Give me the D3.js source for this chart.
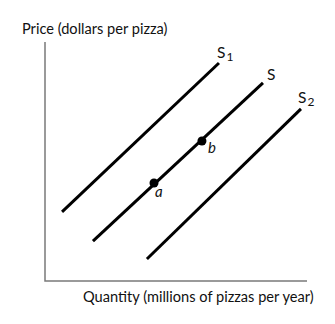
<!DOCTYPE html>
<html>
<head>
<meta charset="utf-8">
<script src="https://cdnjs.cloudflare.com/ajax/libs/d3/7.8.5/d3.min.js"></script>
<style>
  body { margin: 0; background: #fff; }
  text { font-family: Lato, "Open Sans", sans-serif; fill: #111; }
</style>
</head>
<body>
<div id="chart"></div>
<script>
// supply curves in (quantity, price) units, axes run 0..10
var curveNames = ["S1", "S", "S2"];
var curveStart = [[0.65, 2.89], [1.83, 1.67], [3.89, 0.92]];
var curveEnd   = [[6.64, 9.12], [8.32, 8.29], [9.77, 7.20]];
var pointNames = ["a", "b"];
var pointValues = [[4.16, 4.10], [5.99, 5.86]];

var width = 335, height = 324;
var svg = d3.select("#chart").append("svg")
    .attr("width", width)
    .attr("height", height);

var x = d3.scaleLinear().domain([0, 10]).range([45, 307]);
var y = d3.scaleLinear().domain([0, 10]).range([281, 42]);

// axes
svg.append("path")
    .attr("d", "M" + x(0) + "," + y(10) + "V" + y(0) + "H" + x(10))
    .attr("fill", "none")
    .attr("stroke", "#7a7a7a")
    .attr("stroke-width", 1.5);

svg.append("text").attr("x", 22).attr("y", 34)
    .attr("font-size", 14.6).text("Price (dollars per pizza)");
svg.append("text").attr("x", 83).attr("y", 302)
    .attr("font-size", 14.6).text("Quantity (millions of pizzas per year)");

var line = d3.line().x(function(d){ return x(d[0]); }).y(function(d){ return y(d[1]); });

for (var i = 0; i < curveNames.length; i++) {
    svg.append("path")
        .attr("d", line([curveStart[i], curveEnd[i]]))
        .attr("stroke", "#000")
        .attr("stroke-width", 3)
        .attr("fill", "none");
}

// curve labels
var labelOffsets = [[-2, -5], [4, -3], [-3, -6]];
for (var i = 0; i < curveNames.length; i++) {
    var t = svg.append("text")
        .attr("x", x(curveEnd[i][0]) + labelOffsets[i][0])
        .attr("y", y(curveEnd[i][1]) + labelOffsets[i][1])
        .attr("font-size", 15.5);
    t.append("tspan").text("S");
    var sub = curveNames[i].slice(1);
    if (sub) t.append("tspan").attr("dy", 3).attr("dx", 1).attr("font-size", 12).text(sub);
}

// points a, b
for (var i = 0; i < pointNames.length; i++) {
    svg.append("circle")
        .attr("cx", x(pointValues[i][0]))
        .attr("cy", y(pointValues[i][1]))
        .attr("r", 4.5)
        .attr("fill", "#000");
    svg.append("text")
        .attr("x", x(pointValues[i][0]) + (i == 0 ? 1 : 6))
        .attr("y", y(pointValues[i][1]) + (i == 0 ? 14 : 12))
        .attr("font-size", 15)
        .attr("font-style", "italic")
        .text(pointNames[i]);
}
</script>
</body>
</html>
